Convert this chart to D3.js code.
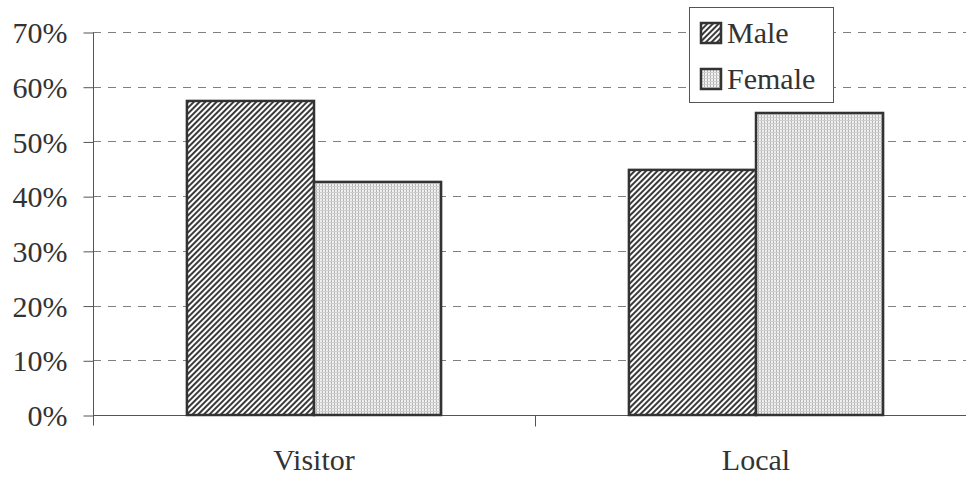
<!DOCTYPE html>
<html>
<head>
<meta charset="utf-8">
<script src="https://cdn.jsdelivr.net/npm/d3@7"></script>
<style>
  html, body { margin: 0; padding: 0; background: #fff; }
  svg { display: block; }
  svg text { font-family: "Liberation Serif", "Times New Roman", Tinos, "Noto Serif", "DejaVu Serif", FreeSerif, Times, serif; }
</style>
</head>
<body>
<svg id="chart" width="966" height="479"></svg>
<script>
// Share of respondents by gender, per visitor group
const categories = ["Visitor", "Local"];
const seriesNames = ["Male", "Female"];
const maleValues = [57.4, 44.8];
const femaleValues = [42.6, 55.2];
const yTicks = [0, 10, 20, 30, 40, 50, 60, 70];

const svg = d3.select("#chart");
const margin = { left: 93, right: -11, top: 32, bottom: 64 };
const W = 966, H = 479;

const x0 = d3.scaleBand().domain(categories)
  .range([margin.left, W - margin.right]).paddingInner(0).paddingOuter(0);
const y = d3.scaleLinear().domain([0, 70]).range([H - margin.bottom, margin.top]);
const barW = x0.bandwidth() * 0.2875;
const x1 = d3.scaleBand().domain(seriesNames).range([0, barW * 2]);

// Fill patterns
const defs = svg.append("defs");
const hatch = defs.append("pattern").attr("id", "hatch")
  .attr("patternUnits", "userSpaceOnUse").attr("width", 4).attr("height", 4)
  .attr("patternTransform", "rotate(45)");
hatch.append("rect").attr("width", 4).attr("height", 4).attr("fill", "#fff");
hatch.append("rect").attr("x", 0).attr("width", 2).attr("height", 4).attr("fill", "#3a3a3a");

const dots = defs.append("pattern").attr("id", "dots")
  .attr("patternUnits", "userSpaceOnUse").attr("width", 3).attr("height", 3);
dots.append("rect").attr("width", 3).attr("height", 3).attr("fill", "#f2f2f2");
dots.append("rect").attr("width", 1).attr("height", 3).attr("fill", "#b0b0b0");
dots.append("rect").attr("width", 3).attr("height", 1).attr("fill", "#cfcfcf");

const fills = { Male: "url(#hatch)", Female: "url(#dots)" };

// Gridlines
svg.append("g").selectAll("line").data(yTicks.filter(d => d > 0)).join("line")
  .attr("x1", margin.left).attr("x2", W)
  .attr("y1", d => Math.round(y(d)) + 0.5).attr("y2", d => Math.round(y(d)) + 0.5)
  .attr("stroke", "#808080").attr("stroke-width", 1.2).attr("stroke-dasharray", "8,7");

// Y axis
const yAxis = d3.axisLeft(y).tickValues(yTicks).tickFormat(d => d + "%").tickSize(10).tickPadding(16);
const gy = svg.append("g").attr("transform", `translate(${margin.left + 0.5},0.5)`).call(yAxis)
  .attr("font-family", null).attr("font-size", 30);
gy.select(".domain").attr("d", `M0,${y(70)}V${y(0) + 10}`).attr("stroke", "#555");
gy.selectAll(".tick line").attr("stroke", "#555");
gy.selectAll(".tick text").attr("fill", "#333").attr("dy", "0.34em");

// X axis
const gx = svg.append("g").attr("transform", `translate(0,${Math.round(y(0)) + 0.5})`);
gx.append("line").attr("x1", margin.left).attr("x2", W).attr("stroke", "#555");
gx.selectAll(".xt").data([x0.range()[0] + x0.bandwidth()]).join("line")
  .attr("x1", d => Math.round(d) + 0.5).attr("x2", d => Math.round(d) + 0.5)
  .attr("y1", 0).attr("y2", 11).attr("stroke", "#555");
gx.selectAll("text").data(categories).join("text")
  .attr("x", d => x0(d) + x0.bandwidth() / 2).attr("y", 54)
  .attr("text-anchor", "middle").attr("font-size", 30).attr("fill", "#333").text(d => d);

// Bars
const rows = categories.map((c, i) => ({ cat: c, Male: maleValues[i], Female: femaleValues[i] }));
const groups = svg.append("g").selectAll("g").data(rows).join("g")
  .attr("transform", d => `translate(${x0(d.cat) + x0.bandwidth() / 2 - barW},0)`);
groups.selectAll("rect").data(d => seriesNames.map(s => ({ s, v: d[s] }))).join("rect")
  .attr("x", d => x1(d.s))
  .attr("y", d => y(d.v))
  .attr("width", x1.bandwidth())
  .attr("height", d => y(0) - y(d.v))
  .attr("fill", d => fills[d.s])
  .attr("stroke", "#333").attr("stroke-width", 2.5);

// Legend
const lg = svg.append("g").attr("transform", "translate(689,7)");
lg.append("rect").attr("x", 0.5).attr("y", 0.5).attr("width", 144).attr("height", 95)
  .attr("fill", "#fff").attr("stroke", "#555").attr("stroke-width", 1);
seriesNames.forEach((s, i) => {
  const row = lg.append("g").attr("transform", `translate(12,${16 + i * 46})`);
  row.append("rect").attr("width", 20).attr("height", 20)
    .attr("fill", fills[s]).attr("stroke", "#333").attr("stroke-width", 2.5);
  row.append("text").attr("x", 26).attr("y", 20).attr("font-size", 30).attr("fill", "#333").text(s);
});
</script>
</body>
</html>
